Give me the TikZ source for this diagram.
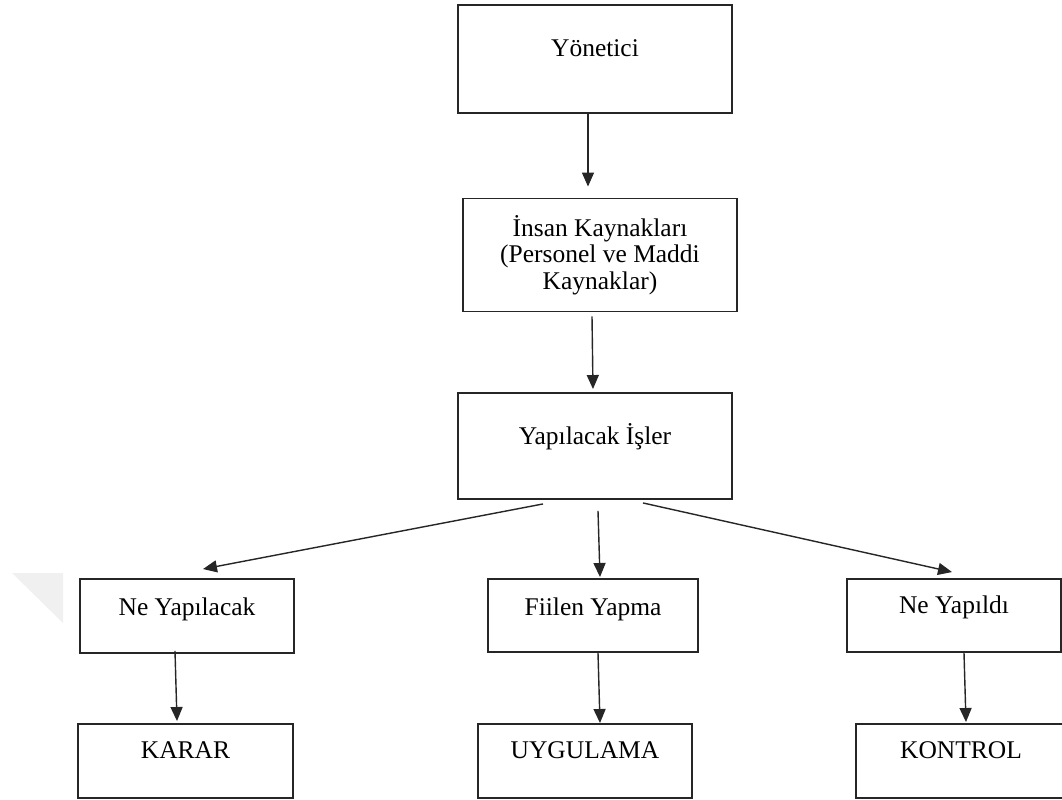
\documentclass[tikz,border=0pt]{standalone}
\usepackage{fontspec}
\setmainfont{Liberation Serif}
\usetikzlibrary{calc, arrows.meta}

\begin{document}
\begin{tikzpicture}[x = 0.02cm, y = -0.02cm,
		kutu/.style = {draw = black!85, line width = 1.1pt, inner sep = 0pt, font = \fontsize{14.5}{15.2}\selectfont},
		ok/.style = {draw = black!85, line width = 0.8pt, -{Triangle[length = 0.28cm, width = 0.24cm]}}]
		
		\useasboundingbox (0,0) rectangle (1062,800);
		\clip (0,0) rectangle (1062,800);
		
		% faint corner mark
		\fill[gray!12] (12,573) -- (63,573) -- (63,623) -- cycle;
		
		\node[kutu, anchor = base, minimum width = 5.48cm, text height = 1.04cm, text depth = 1.12cm] (yon) at (595,57) {Yönetici};
		\node[kutu, align = center, minimum width = 5.48cm, minimum height = 2.26cm] (ins) at (600,255) {İnsan Kaynakları\\(Personel ve Maddi\\Kaynaklar)};
		\node[kutu, anchor = base, minimum width = 5.48cm, text height = 1.04cm, text depth = 1.08cm] (yap) at (595,445) {Yapılacak İşler};
		
		\begin{scope}[every node/.style = {kutu, anchor = base}]
			\node[minimum width = 4.28cm, text height = 0.72cm, text depth = 0.76cm] (neyap) at (187,615) {Ne Yapılacak};
			\node[minimum width = 4.2cm, text height = 0.72cm, text depth = 0.74cm] (fiil) at (593,615) {Fiilen Yapma};
			\node[minimum width = 4.28cm, text height = 0.68cm, text depth = 0.78cm] (neyapt) at (954,613) {Ne Yapıldı};
			
			\node[minimum width = 4.3cm, text height = 0.68cm, text depth = 0.8cm] (karar) at (185.5,758) {KARAR};
			\node[minimum width = 4.28cm, text height = 0.68cm, text depth = 0.8cm] (uyg) at (585,758) {UYGULAMA};
			\node[minimum width = 4.2cm, text height = 0.68cm, text depth = 0.8cm] (kont) at (961,758) {KONTROL};
		\end{scope}
		
		\draw[ok] ($(yon.south)+(-7,0)$) -- ($(ins.north)+(-12,-11)$);
		\draw[ok] ($(ins.south)+(-8,4)$) -- ($(yap.north)+(-2,-3)$);
		
		\draw[ok] ($(yap.south)+(-52,4)$) -- ($(neyap.north)+(16,-9)$);
		\draw[ok] ($(yap.south)+(3,11)$) -- ($(fiil.north)+(7,-1)$);
		\draw[ok] ($(yap.south)+(48,3)$) -- ($(neyapt.north)+(-2,-6)$);
		
		\draw[ok] ($(neyap.south)+(-12,-3)$) -- ($(karar.north)+(-8.5,-2)$);
		\draw[ok] ($(fiil.south)+(5,0)$) -- ($(uyg.north)+(15,0)$);
		\draw[ok] ($(neyapt.south)+(10,0)$) -- ($(kont.north)+(5,-1)$);
	\end{tikzpicture}
\end{document}
